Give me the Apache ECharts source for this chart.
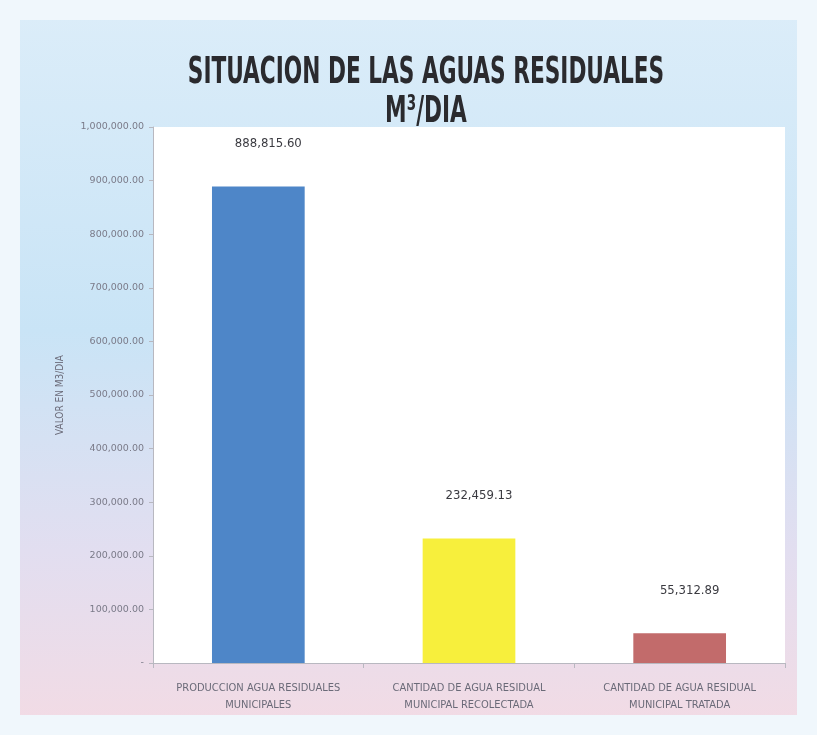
<!DOCTYPE html>
<html><head><meta charset="utf-8">
<script src="https://cdn.jsdelivr.net/npm/echarts@6/dist/echarts.min.js"></script>
<style>html,body{margin:0;padding:0;background:#fff}#c{width:817px;height:735px}</style>
</head><body><div id="c"></div>
<script>
const titleLines = ['SITUACION DE LAS AGUAS RESIDUALES', 'M³/DIA'];
const categories = ['PRODUCCION AGUA RESIDUALES\nMUNICIPALES', 'CANTIDAD DE AGUA RESIDUAL\nMUNICIPAL RECOLECTADA', 'CANTIDAD DE AGUA RESIDUAL\nMUNICIPAL TRATADA'];
const values = [888815.60, 232459.13, 55312.89];
const barColors = ['#4e86c8', '#f7ef3c', '#c26b6b'];
const yTicks = [0, 100000, 200000, 300000, 400000, 500000, 600000, 700000, 800000, 900000, 1000000];

const FF = "'DejaVu Sans Condensed', 'Liberation Sans Narrow', 'Roboto Condensed', sans-serif";
function fmt(v) {
  return v.toLocaleString('en-US', {minimumFractionDigits: 2, maximumFractionDigits: 2});
}
const titleText = (t, y) => ({
  type: 'text', x: 426, y: y, scaleX: 0.86, scaleY: 1.35, silent: true, z: 10,
  style: {text: t, fill: '#2a2a2e', font: "bold 28px 'DejaVu Sans Condensed', sans-serif", textAlign: 'center', textVerticalAlign: 'middle'}
});
const chart = echarts.init(document.getElementById('c'));
chart.setOption({
  backgroundColor: {
    type: 'linear', x: 0, y: 0, x2: 0, y2: 1,
    colorStops: [{offset: 0, color: '#dcedf9'}, {offset: 0.45, color: '#c9e4f6'}, {offset: 0.75, color: '#e2def0'}, {offset: 1, color: '#f3dbe4'}]
  },
  graphic: [
    {type: 'rect', shape: {x: 0, y: 0, width: 817, height: 735}, style: {fill: 'none', stroke: '#f0f7fc', lineWidth: 40}, z: -1, silent: true},
    titleText(titleLines[0], 73),
    titleText(titleLines[1], 112)
  ],
  grid: {left: 153, right: 32, top: 127, bottom: 72, show: true, backgroundColor: '#ffffff', borderWidth: 0},
  xAxis: {
    type: 'category', data: categories,
    axisLine: {lineStyle: {color: '#b8b8c0'}},
    axisTick: {show: true, alignWithLabel: false, lineStyle: {color: '#b8b8c0'}},
    axisLabel: {interval: 0, fontFamily: FF, fontSize: 11, color: '#6a6a78', lineHeight: 17, margin: 17}
  },
  yAxis: {
    type: 'value', min: 0, max: 1000000, interval: 100000,
    name: 'VALOR EN M3/DIA', nameLocation: 'middle', nameGap: 88, nameRotate: 90,
    nameTextStyle: {fontFamily: FF, fontSize: 10, color: '#6a6a78'},
    axisLine: {show: true, lineStyle: {color: '#b8b8c0'}},
    axisTick: {show: true, length: 4, lineStyle: {color: '#b8b8c0'}},
    splitLine: {show: false},
    axisLabel: {
      fontFamily: "'DejaVu Sans', sans-serif", fontSize: 9.5, color: '#7a7a88', margin: 9,
      formatter: v => (yTicks.indexOf(v) === 0 ? '-' : fmt(v))
    }
  },
  series: [{
    type: 'bar', barWidth: '44%',
    data: values.map((v, i) => ({value: v, itemStyle: {color: barColors[i]}})),
    label: {
      show: true, position: 'top', distance: 36, offset: [10, 0],
      fontFamily: FF, fontSize: 13, color: '#3a3a40',
      formatter: p => fmt(p.value)
    }
  }]
});
</script></body></html>
